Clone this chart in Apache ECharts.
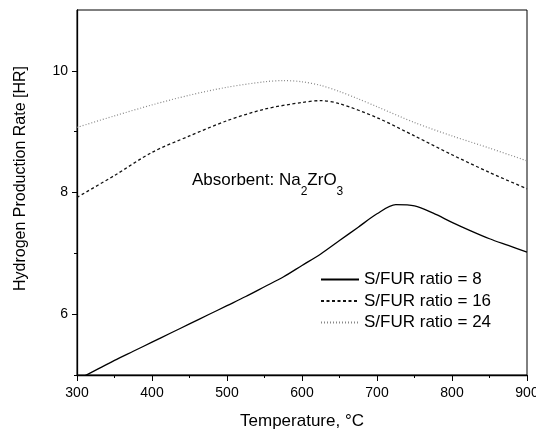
<!DOCTYPE html>
<html><head><meta charset="utf-8">
<script src="https://cdn.jsdelivr.net/npm/echarts@6/dist/echarts.min.js"></script>
<style>html,body{margin:0;padding:0;background:#fff}#c{width:536px;height:429px}</style>
</head><body><div id="c"></div>
<script>
const FONT = 'Arial, "Liberation Sans", sans-serif';
const seriesNames = ['S/FUR ratio = 8', 'S/FUR ratio = 16', 'S/FUR ratio = 24'];
const temps8 = [300,325,350,375,400,425,450,475,500,525,550,575,600,625,650,675,700,725,750,775,800,825,850,875,900];
const hr8 = [4.92,5.08,5.24,5.39,5.54,5.69,5.84,5.99,6.14,6.29,6.45,6.61,6.80,6.99,7.21,7.43,7.65,7.80,7.78,7.66,7.51,7.37,7.24,7.13,7.02];
const temps16 = [300,350,400,450,500,550,600,625,650,700,750,800,850,900];
const hr16 = [7.92,8.28,8.66,8.93,9.18,9.37,9.48,9.51,9.46,9.23,8.93,8.62,8.33,8.06];
const temps24 = [300,350,400,450,500,550,575,600,625,650,675,700,750,800,850,900];
const hr24 = [9.07,9.26,9.44,9.60,9.73,9.82,9.84,9.82,9.76,9.66,9.54,9.41,9.15,8.93,8.73,8.52];
const xTicks = [300,400,500,600,700,800,900];
const yTickLabels = [6,8,10];
const yMinorTicks = [5,7,9];

const pairs = (xs, ys) => xs.map((x, i) => [x, ys[i]]);
const chart = echarts.init(document.getElementById('c'));
chart.setOption({
  animation: false,
  backgroundColor: '#fff',
  textStyle: {fontFamily: FONT},
  grid: {left: 77, right: 9, top: 10, bottom: 54, show: true, borderColor: '#000', borderWidth: 1,
         containLabel: false, outerBoundsMode: 'none'},
  legend: {
    orient: 'vertical', left: 315, top: 266, itemWidth: 38, itemHeight: 14, itemGap: 4.5,
    data: seriesNames,
    itemStyle: {opacity: 0, color: 'transparent', borderWidth: 0},
    textStyle: {fontFamily: FONT, fontSize: 17, color: '#000'}
  },
  xAxis: {
    type: 'value', min: 300, max: 900, interval: 100,
    name: 'Temperature, \u00b0C', nameLocation: 'middle', nameGap: 38,
    nameTextStyle: {fontFamily: FONT, fontSize: 17, color: '#000'},
    axisLine: {lineStyle: {color: '#000', width: 1.3}},
    axisTick: {show: true, length: 6, inside: false, lineStyle: {color: '#000'}},
    minorTick: {show: true, splitNumber: 2, length: 3, lineStyle: {color: '#000'}},
    axisLabel: {fontFamily: FONT, fontSize: 14, color: '#000', margin: 11, showMaxLabel: true},
    splitLine: {show: false}
  },
  yAxis: [{
    type: 'value', min: 5, max: 11,
    name: 'Hydrogen Production Rate [HR]', nameLocation: 'middle', nameGap: 48,
    nameTextStyle: {fontFamily: FONT, fontSize: 16, color: '#000', padding: [0, 0, 0, 28]},
    axisLine: {lineStyle: {color: '#000', width: 1.3}},
    axisTick: {show: true, length: 5, lineStyle: {color: '#000'}, customValues: yTickLabels},
    axisLabel: {fontFamily: FONT, fontSize: 14, color: '#000', margin: 9, customValues: yTickLabels},
    splitLine: {show: false}
  }, {
    type: 'value', min: 5, max: 11, position: 'left',
    axisLine: {show: false},
    axisTick: {show: true, length: 3, lineStyle: {color: '#000'}, customValues: yMinorTicks},
    axisLabel: {show: false},
    splitLine: {show: false}
  }],
  graphic: [{
    type: 'text', left: 192, top: 172,
    style: {
      text: '{a|Absorbent: Na}{s|2}{a|ZrO}{s|3}',
      rich: {
        a: {fontFamily: FONT, fontSize: 17, fill: '#000', lineHeight: 34, verticalAlign: 'middle'},
        s: {fontFamily: FONT, fontSize: 12, fill: '#000', lineHeight: 34, verticalAlign: 'bottom'}
      }
    }
  }],
  series: [
    {name: seriesNames[0], type: 'line', data: pairs(temps8, hr8), smooth: 0.3, symbol: 'none',
     lineStyle: {color: '#000', width: 1.3, type: 'solid'}, itemStyle: {color: '#000'}},
    {name: seriesNames[1], type: 'line', data: pairs(temps16, hr16), smooth: 0.3, symbol: 'none',
     lineStyle: {color: '#111', width: 1.3, type: [3, 2.5]}, itemStyle: {color: '#111'}},
    {name: seriesNames[2], type: 'line', data: pairs(temps24, hr24), smooth: 0.3, symbol: 'none',
     lineStyle: {color: '#888', width: 1.2, type: [1, 2]}, itemStyle: {color: '#888'}}
  ]
});
</script></body></html>
